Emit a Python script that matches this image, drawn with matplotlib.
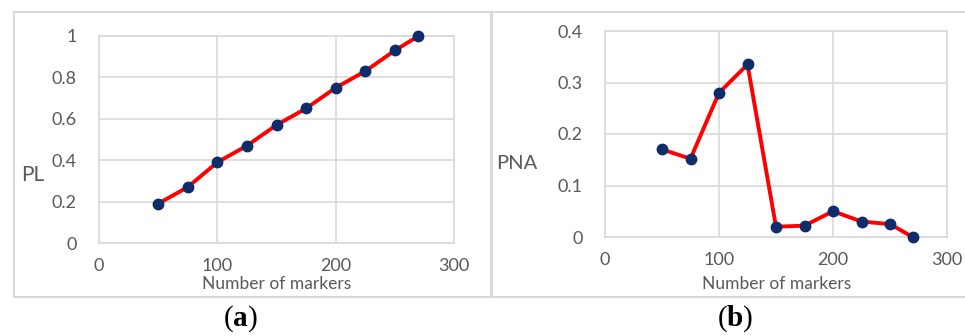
import matplotlib.pyplot as plt
from matplotlib.patches import Rectangle

plt.rcParams['font.family'] = ['Lato', 'DejaVu Sans']
plt.rcParams['mathtext.fontset'] = 'custom'
plt.rcParams['mathtext.bf'] = 'Liberation Serif:bold'
plt.rcParams['mathtext.rm'] = 'Liberation Serif'

n_markers = [50, 75, 100, 125, 150, 175, 200, 225, 250, 270]
pl_values = [0.19, 0.27, 0.39, 0.47, 0.57, 0.65, 0.75, 0.83, 0.93, 1.0]
pna_values = [0.17, 0.152, 0.28, 0.335, 0.02, 0.022, 0.05, 0.03, 0.025, 0.0]
x_ticks = [0, 100, 200, 300]
pl_ticks = [0, 0.2, 0.4, 0.6, 0.8, 1]
pna_ticks = [0, 0.1, 0.2, 0.3, 0.4]

W, H = 965, 336
TEXT = '#595959'
GRID = '#d9d9d9'
fig = plt.figure(figsize=(W / 100, H / 100), dpi=100)


def px_axes(x0, x1, ytop, ybot):
    return fig.add_axes([x0 / W, 1 - ybot / H, (x1 - x0) / W, (ybot - ytop) / H])


def style(ax, yticks):
    ax.set_xlim(0, 300)
    ax.set_ylim(yticks[0], yticks[-1])
    ax.set_xticks(x_ticks)
    ax.set_yticks(yticks)
    ax.set_yticklabels([f'{t:g}' for t in yticks])
    ax.grid(True, color=GRID, linewidth=1.2)
    ax.set_axisbelow(True)
    for s in ax.spines.values():
        s.set_color(GRID)
        s.set_linewidth(1.2)
    ax.tick_params(length=0, labelsize=13, labelcolor=TEXT)
    ax.tick_params(axis='y', pad=16)
    ax.tick_params(axis='x', pad=11)


def draw_series(ax, y):
    ax.plot(n_markers, y, color='#ff0000', linewidth=2.8, marker='o', markersize=7.5,
            markerfacecolor='#0f2d6b', markeredgecolor='#0f2d6b', zorder=3, clip_on=False)


# outer chart borders
fig.patches.append(Rectangle((14 / W, 1 - 297 / H), 477 / W, 285 / H, transform=fig.transFigure,
                             fill=False, edgecolor=GRID, linewidth=1.5))
fig.patches.append(Rectangle((492 / W, 1 - 297 / H), 480 / W, 285 / H, transform=fig.transFigure,
                             fill=False, edgecolor=GRID, linewidth=1.5))

ax1 = px_axes(99, 454, 36, 243)
style(ax1, pl_ticks)
draw_series(ax1, pl_values)

ax2 = px_axes(605, 947, 31, 237)
style(ax2, pna_ticks)
draw_series(ax2, pna_values)

fig.text(33 / W, 1 - 175 / H, 'PL', fontsize=15, color=TEXT, ha='center', va='center')
fig.text(517 / W, 1 - 163 / H, 'PNA', fontsize=14.5, color=TEXT, ha='center', va='center')
fig.text(277 / W, 1 - 284 / H, 'Number of markers', fontsize=12.5, color=TEXT, ha='center', va='center')
fig.text(777 / W, 1 - 284 / H, 'Number of markers', fontsize=12.5, color=TEXT, ha='center', va='center')

fig.text(240 / W, 1 - 319 / H, r'($\mathbf{a}$)', fontsize=21, family='Liberation Serif',
         ha='center', va='center')
fig.text(735 / W, 1 - 319 / H, r'($\mathbf{b}$)', fontsize=21, family='Liberation Serif',
         ha='center', va='center')

fig.savefig('out.png', dpi=100)
